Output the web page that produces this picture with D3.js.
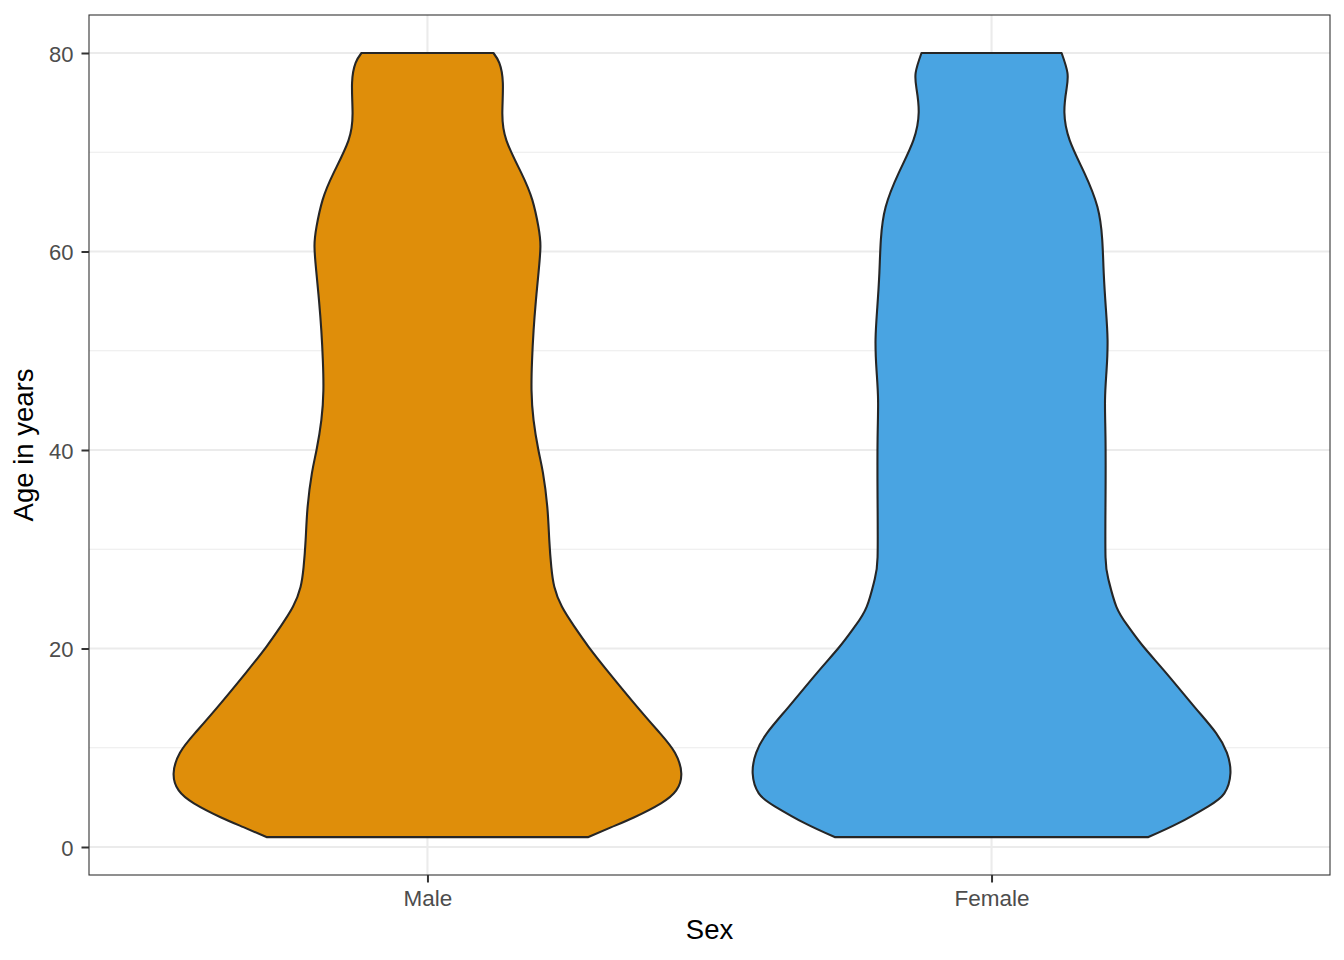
<!DOCTYPE html>
<html>
<head>
<meta charset="utf-8">
<script src="https://cdn.jsdelivr.net/npm/d3@7"></script>
<style>
  html, body { margin: 0; padding: 0; background: #fff; }
  svg { display: block; font-family: "Liberation Sans", Arial, sans-serif; }
</style>
</head>
<body>
<svg id="chart" width="1344" height="960"></svg>
<script>
// ---- data ----
const categories = ["Male", "Female"];
const fillColors = ["#DF8E0A", "#49A4E2"];
const yTicks = [0, 20, 40, 60, 80];
const yMinor = [10, 30, 50, 70];

// violin density profiles (age, relative half-width)
const maleAges   = [1.0, 2.0, 3.0, 4.4, 5.7, 7.4, 9.5, 11.5, 14.1, 17.5, 20.2, 22.2, 24.2, 26.2, 28.2, 30.9, 34.3, 37.7, 40.0, 43.0, 46.0, 49.0, 52.0, 55.0, 58.0, 60.5, 62.5, 65.2, 67.9, 71.2, 74.0, 77.0, 79.0, 80.0];
const maleWidth  = [0.634, 0.725, 0.815, 0.92, 0.98, 1.0, 0.975, 0.915, 0.827, 0.717, 0.634, 0.579, 0.53, 0.50, 0.488, 0.48, 0.472, 0.455, 0.437, 0.418, 0.41, 0.412, 0.418, 0.427, 0.438, 0.445, 0.437, 0.413, 0.37, 0.311, 0.295, 0.297, 0.283, 0.26];
const femaleAges  = [1.0, 2.4, 4.1, 5.4, 7.4, 9.5, 11.5, 14.1, 17.5, 20.2, 22.2, 24.2, 26.9, 29.2, 35.0, 41.0, 45.0, 48.0, 51.1, 54.4, 57.8, 61.2, 64.5, 67.9, 71.2, 74.0, 76.3, 78.0, 80.0];
const femaleWidth = [0.618, 0.736, 0.854, 0.917, 0.941, 0.927, 0.884, 0.80, 0.689, 0.598, 0.539, 0.492, 0.461, 0.449, 0.449, 0.449, 0.447, 0.453, 0.457, 0.45, 0.442, 0.436, 0.417, 0.366, 0.308, 0.287, 0.295, 0.299, 0.276];

const profiles = [
  maleAges.map((a, i) => ({age: a, w: maleWidth[i]})),
  femaleAges.map((a, i) => ({age: a, w: femaleWidth[i]}))
];

// ---- layout ----
const panel = {left: 89, right: 1330, top: 15, bottom: 875};
const svg = d3.select("#chart");

const x = d3.scalePoint().domain(categories).range([panel.left, panel.right]).padding(0.6);
const step = x.step();
const wScale = d3.scaleLinear().domain([0, 1]).range([0, 0.45 * step]);
const y = d3.scaleLinear().domain([0, 80]).range([847, 53]);

// background
svg.append("rect").attr("x", panel.left).attr("y", panel.top)
  .attr("width", panel.right - panel.left).attr("height", panel.bottom - panel.top)
  .attr("fill", "#fff");

// grid
const grid = svg.append("g");
grid.selectAll("line.minor").data(yMinor).join("line")
  .attr("x1", panel.left).attr("x2", panel.right)
  .attr("y1", d => y(d)).attr("y2", d => y(d))
  .attr("stroke", "#EBEBEB").attr("stroke-width", 1.1);
grid.selectAll("line.majory").data(yTicks).join("line")
  .attr("x1", panel.left).attr("x2", panel.right)
  .attr("y1", d => y(d)).attr("y2", d => y(d))
  .attr("stroke", "#EBEBEB").attr("stroke-width", 2.1);
grid.selectAll("line.majorx").data(categories).join("line")
  .attr("x1", d => x(d)).attr("x2", d => x(d))
  .attr("y1", panel.top).attr("y2", panel.bottom)
  .attr("stroke", "#EBEBEB").attr("stroke-width", 2.1);

// violins
categories.forEach((c, i) => {
  const cx = x(c);
  const area = d3.area()
    .y(d => y(d.age))
    .x0(d => cx - wScale(d.w))
    .x1(d => cx + wScale(d.w))
    .curve(d3.curveNatural);
  svg.append("path")
    .datum(profiles[i])
    .attr("d", area)
    .attr("fill", fillColors[i])
    .attr("stroke", "#262626")
    .attr("stroke-width", 2.1)
    .attr("stroke-linejoin", "round");
});

// panel border
svg.append("rect").attr("x", panel.left).attr("y", panel.top)
  .attr("width", panel.right - panel.left).attr("height", panel.bottom - panel.top)
  .attr("fill", "none").attr("stroke", "#333333").attr("stroke-width", 1.1);

// y axis
const yAxis = d3.axisLeft(y).tickValues(yTicks).tickSize(7.5).tickPadding(8);
const gy = svg.append("g").attr("transform", `translate(${panel.left},0)`).call(yAxis);
gy.select(".domain").remove();
gy.selectAll(".tick line").attr("stroke", "#333333").attr("stroke-width", 2);
gy.selectAll(".tick text").attr("fill", "#4D4D4D").attr("dy", "0.38em")
  .style("font-size", "22px")
  .style("font-family", "'Liberation Sans', Arial, sans-serif");

// x axis
const xAxis = d3.axisBottom(x).tickSize(7.5).tickPadding(7.5);
const gx = svg.append("g").attr("transform", `translate(0,${panel.bottom})`).call(xAxis);
gx.select(".domain").remove();
gx.selectAll(".tick line").attr("stroke", "#333333").attr("stroke-width", 2);
gx.selectAll(".tick text").attr("fill", "#4D4D4D")
  .style("font-size", "22.5px")
  .style("font-family", "'Liberation Sans', Arial, sans-serif");

// axis titles
svg.append("text").attr("x", (panel.left + panel.right) / 2).attr("y", 939)
  .attr("text-anchor", "middle").attr("fill", "#000").style("font-size", "27.5px")
  .text("Sex");
svg.append("text")
  .attr("transform", `translate(33,${(panel.top + panel.bottom) / 2}) rotate(-90)`)
  .attr("text-anchor", "middle").attr("fill", "#000").style("font-size", "27.5px")
  .text("Age in years");
</script>
</body>
</html>
